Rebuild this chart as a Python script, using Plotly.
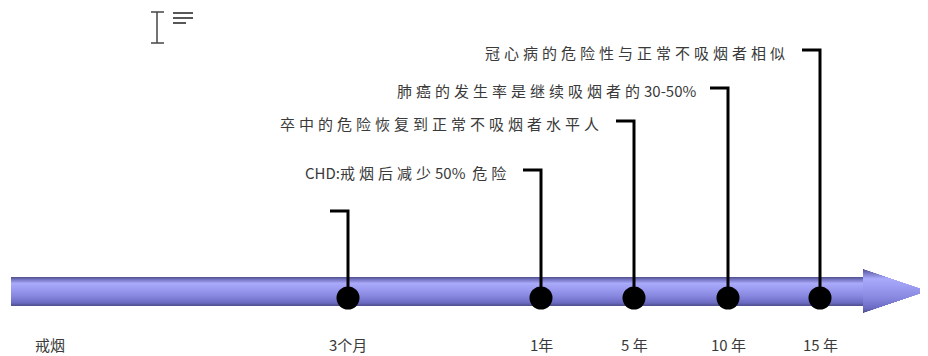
import re
import plotly.graph_objects as go

# ---- data ----
start_label = "戒烟"
start_x = 50
milestones = ["3个月", "1年", "5 年", "10 年", "15 年"]
milestone_x = [348, 541, 634, 728, 820]
connector_top = [211, 170, 121, 88, 50]
events = [
    "",
    "CHD:戒烟后减少50% 危险",
    "卒中的危险恢复到正常不吸烟者水平人",
    "肺癌的发生率是继续吸烟者的30-50%",
    "冠心病的危险性与正常不吸烟者相似",
]

W, H = 928, 356
OFF = 8  # page body margin
AXIS_Y = 298
HOOK = 18
FONT = "Noto Sans CJK SC, Noto Sans, sans-serif"
TXT = "#3a3a3a"

fig = go.Figure()
shapes = []

stops = [(0.0, (80, 80, 138)), (0.08, (112, 112, 190)), (0.22, (170, 170, 250)),
         (0.4, (156, 156, 242)), (0.65, (136, 136, 224)), (0.88, (108, 108, 196)),
         (1.0, (78, 78, 140))]


def grad(f):
    for (f0, c0), (f1, c1) in zip(stops, stops[1:]):
        if f0 <= f <= f1:
            t = (f - f0) / (f1 - f0) if f1 > f0 else 0
            c = [round(a + (b - a) * t) for a, b in zip(c0, c1)]
            return "rgb(%d,%d,%d)" % tuple(c)
    return "rgb(%d,%d,%d)" % stops[-1][1]


def spaced(t):
    parts = re.findall(r"[\u4e00-\u9fff]+|[^\u4e00-\u9fff]+", t)
    out = []
    for p in parts:
        if re.match(r"[\u4e00-\u9fff]", p):
            out.append('<span style="letter-spacing:4px">%s</span>' % p)
        else:
            out.append(p.replace(" ", "&nbsp;&nbsp;"))
    return "".join(out)


# shaft
s_top, s_bot, s_left, s_right = 277, 306, 11, 866
n = 29
for i in range(n):
    y0 = s_top + (s_bot - s_top) * i / n
    y1 = s_top + (s_bot - s_top) * (i + 1) / n
    shapes.append(dict(type="rect", x0=s_left, x1=s_right, y0=y0, y1=y1,
                       xref="x", yref="y", line=dict(width=0),
                       fillcolor=grad((i + 0.5) / n), layer="below"))

# arrow head
h_top, h_bot, h_left, h_tip = 269, 313, 863, 928
mid = (h_top + h_bot) / 2
half = (h_bot - h_top) / 2
m = 44
for i in range(m):
    y0 = h_top + (h_bot - h_top) * i / m
    y1 = h_top + (h_bot - h_top) * (i + 1) / m
    yc = (y0 + y1) / 2
    xr = h_left + (h_tip - h_left) * (1 - abs(yc - mid) / half)
    shapes.append(dict(type="rect", x0=h_left, x1=xr, y0=y0, y1=y1,
                       xref="x", yref="y", line=dict(width=0),
                       fillcolor=grad((i + 0.5) / m), layer="below"))

# connectors
for x, top in zip(milestone_x, connector_top):
    fig.add_trace(go.Scatter(x=[x - HOOK, x, x], y=[top, top, AXIS_Y],
                             mode="lines", line=dict(color="black", width=3),
                             hoverinfo="skip", showlegend=False))

# dots
fig.add_trace(go.Scatter(x=milestone_x, y=[AXIS_Y] * len(milestone_x), mode="markers",
                         marker=dict(color="black", size=23, line=dict(width=0)),
                         hoverinfo="skip", showlegend=False))

# event texts
for x, top, t in zip(milestone_x, connector_top, events):
    if t:
        fig.add_annotation(x=x - HOOK - 11, y=top + 2, text=spaced(t),
                           showarrow=False, xanchor="right", yanchor="middle",
                           font=dict(family=FONT, size=15, color=TXT))

# bottom labels
fig.add_annotation(x=start_x, y=344, text=start_label, showarrow=False,
                   xanchor="center", yanchor="middle",
                   font=dict(family=FONT, size=15, color=TXT))
for x, lab in zip(milestone_x, milestones):
    fig.add_annotation(x=x, y=344, text=lab, showarrow=False,
                       xanchor="center", yanchor="middle",
                       font=dict(family=FONT, size=15, color=TXT))

# text-cursor icon (top left)
ic = "#444444"
shapes += [
    dict(type="line", x0=157, x1=157, y0=12, y1=43, xref="x", yref="y", line=dict(color=ic, width=1.5)),
    dict(type="line", x0=151, x1=164, y0=12, y1=12, xref="x", yref="y", line=dict(color=ic, width=1.5)),
    dict(type="line", x0=151, x1=164, y0=43, y1=43, xref="x", yref="y", line=dict(color=ic, width=1.5)),
    dict(type="line", x0=173, x1=193, y0=13, y1=13, xref="x", yref="y", line=dict(color=ic, width=1.8)),
    dict(type="line", x0=173, x1=193, y0=18, y1=18, xref="x", yref="y", line=dict(color=ic, width=1.8)),
    dict(type="line", x0=173, x1=186, y0=23, y1=23, xref="x", yref="y", line=dict(color=ic, width=1.8)),
]

fig.update_layout(
    width=W - OFF, height=H - OFF,
    margin=dict(l=0, r=0, t=0, b=0),
    paper_bgcolor="white", plot_bgcolor="white",
    xaxis=dict(range=[OFF, W], visible=False, fixedrange=True),
    yaxis=dict(range=[H, OFF], visible=False, fixedrange=True),
    shapes=shapes,
    showlegend=False,
)

fig.write_html("out.html", config=dict(displayModeBar=False))
